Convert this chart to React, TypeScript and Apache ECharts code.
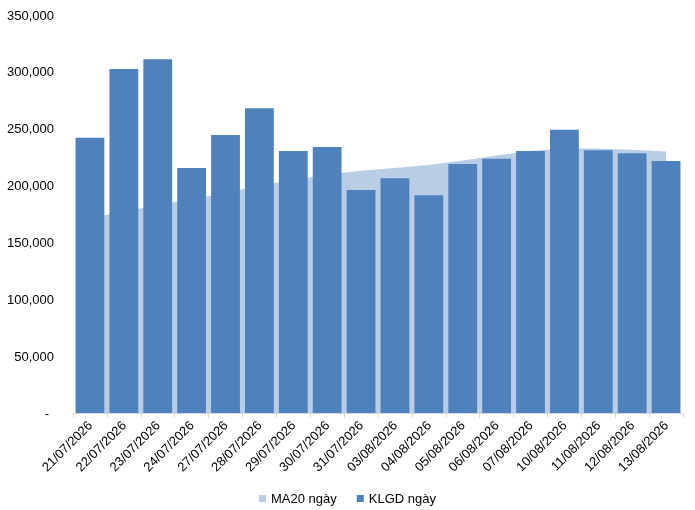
import React, { useEffect, useRef } from "react";
import * as echarts from "echarts";

const categories = [
  "21/07/2026", "22/07/2026", "23/07/2026", "24/07/2026", "27/07/2026", "28/07/2026",
  "29/07/2026", "30/07/2026", "31/07/2026", "03/08/2026", "04/08/2026", "05/08/2026",
  "06/08/2026", "07/08/2026", "10/08/2026", "11/08/2026", "12/08/2026", "13/08/2026",
];

const klgdValues = [
  242000, 302500, 311000, 215500, 244500, 268000,
  230500, 234000, 196000, 206500, 191500, 219000,
  223500, 230500, 249000, 231000, 228500, 221500,
];

const ma20Values = [
  171500, 177000, 183000, 188000, 193500, 200000,
  205000, 209500, 213000, 215500, 218000, 222000,
  226500, 230500, 232500, 232500, 231500, 230000,
];

const yMin = 0;
const yMax = 350000;
const yInterval = 50000;

const FONT = "'Liberation Sans', Arial, sans-serif";

export default function App() {
  const ref = useRef<HTMLDivElement>(null);

  useEffect(() => {
    if (!ref.current) return;
    const chart = echarts.init(ref.current, undefined, { renderer: "svg" });
    chart.setOption({
      animation: false,
      textStyle: { fontFamily: FONT },
      grid: { left: 73, right: 12, top: 15, bottom: 97, containLabel: false },
      legend: {
        data: ["MA20 ngày", "KLGD ngày"],
        left: "center",
        top: 487,
        icon: "rect",
        itemWidth: 7,
        itemHeight: 7,
        itemGap: 20,
        textStyle: { fontFamily: FONT, fontSize: 13, color: "#000" },
      },
      xAxis: {
        type: "category",
        data: categories,
        boundaryGap: true,
        axisLine: { show: true, lineStyle: { color: "#d9d9d9", width: 1 } },
        axisTick: { show: true, length: 5, lineStyle: { color: "#d9d9d9" } },
        axisLabel: {
          rotate: 45,
          interval: 0,
          margin: 10,
          fontFamily: FONT,
          fontSize: 13,
          color: "#000",
        },
        splitLine: { show: false },
      },
      yAxis: {
        type: "value",
        min: yMin,
        max: yMax,
        interval: yInterval,
        axisLine: { show: false },
        axisTick: { show: false },
        splitLine: { show: false },
        axisLabel: {
          margin: 19,
          fontFamily: FONT,
          fontSize: 13,
          color: "#000",
          formatter: (v: number) =>
            v === 0 ? "{z|-}" : v.toLocaleString("en-US"),
          rich: {
            z: { padding: [0, 5, 0, 0], fontFamily: FONT, fontSize: 13, color: "#000" },
          },
        },
      },
      series: [
        {
          name: "MA20 ngày",
          type: "line",
          data: ma20Values,
          symbol: "none",
          showSymbol: false,
          lineStyle: { width: 0, color: "#B9CDE5" },
          itemStyle: { color: "#B9CDE5" },
          areaStyle: { color: "#B9CDE5", opacity: 1 },
          z: 1,
        },
        {
          name: "KLGD ngày",
          type: "bar",
          data: klgdValues,
          barCategoryGap: "15%",
          itemStyle: { color: "#4F81BD" },
          z: 2,
        },
      ],
    });
    return () => chart.dispose();
  }, []);

  return (
    <div
      ref={ref}
      style={{ position: "fixed", left: 0, top: 0, width: 695, height: 510 }}
    />
  );
}
